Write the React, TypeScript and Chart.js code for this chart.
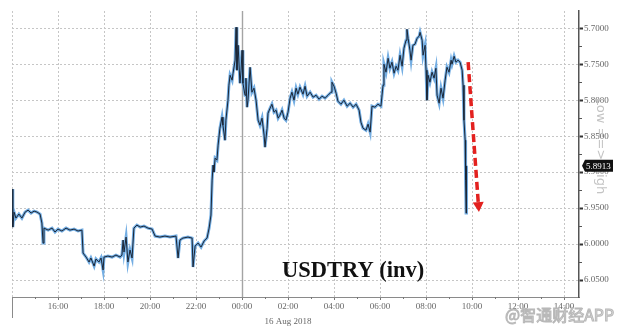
import React, { useEffect, useRef } from "react";
import { Chart, registerables } from "chart.js";

Chart.register(...registerables);

// Time in hours since 15 Aug 2018 00:00 (24 = 16 Aug 00:00)
const TIMES = [
  14.02, 14.03, 14.04, 14.09, 14.17, 14.30, 14.43, 14.57, 14.70, 14.83, 14.96, 15.09, 15.22, 15.30, 15.35, 15.39,
  15.57, 15.74, 15.87, 16.00, 16.17, 16.35, 16.52, 16.70, 16.87, 17.04, 17.09, 17.22, 17.35, 17.43, 17.57, 17.65,
  17.78, 17.87, 17.96, 18.00, 18.17, 18.35, 18.52, 18.70, 18.78, 18.83, 18.87, 18.96, 19.04, 19.13, 19.22, 19.30,
  19.43, 19.57, 19.74, 19.91, 20.09, 20.22, 20.43, 20.65, 20.87, 21.13, 21.22, 21.30, 21.43, 21.65, 21.83, 21.87,
  21.96, 22.09, 22.22, 22.35, 22.48, 22.57, 22.65, 22.70, 22.74, 22.78, 22.83, 22.91, 22.96, 23.04, 23.13, 23.17,
  23.26, 23.30, 23.39, 23.43, 23.48, 23.57, 23.61, 23.70, 23.74, 23.78, 23.83, 23.91, 23.96, 24.00, 24.04, 24.13,
  24.17, 24.22, 24.26, 24.35, 24.43, 24.52, 24.61, 24.70, 24.78, 24.87, 24.96, 25.00, 25.09, 25.13, 25.22, 25.30,
  25.39, 25.48, 25.57, 25.65, 25.74, 25.83, 25.91, 26.00, 26.09, 26.17, 26.26, 26.35, 26.43, 26.52, 26.65, 26.74,
  26.83, 26.96, 27.09, 27.22, 27.35, 27.48, 27.61, 27.74, 27.87, 27.91, 28.00, 28.09, 28.17, 28.30, 28.43, 28.57,
  28.70, 28.83, 28.96, 29.09, 29.17, 29.26, 29.39, 29.48, 29.57, 29.65, 29.78, 29.91, 30.04, 30.13, 30.17, 30.26,
  30.35, 30.43, 30.52, 30.61, 30.70, 30.78, 30.87, 30.96, 31.04, 31.13, 31.17, 31.22, 31.30, 31.35, 31.43, 31.52,
  31.61, 31.70, 31.74, 31.83, 31.87, 31.96, 32.00, 32.04, 32.09, 32.17, 32.26, 32.35, 32.43, 32.48, 32.57, 32.65,
  32.74, 32.83, 32.91, 33.00, 33.09, 33.13, 33.22, 33.30, 33.39, 33.48, 33.57, 33.61, 33.65, 33.70, 33.72, 33.74,
  33.76,
];

const VALUES = [
  5.9597, 5.9236, 5.9764, 5.9556, 5.9639, 5.9583, 5.9639, 5.9556, 5.9528, 5.9569, 5.9542, 5.9556, 5.9583, 5.9708, 5.9986, 5.9778,
  5.9806, 5.9778, 5.9833, 5.9792, 5.9819, 5.9778, 5.9806, 5.9792, 5.9819, 5.9806, 6.0125, 6.0181, 6.0250, 6.0194, 6.0306, 6.0208,
  6.0250, 6.0194, 6.0361, 6.0181, 6.0167, 6.0181, 6.0153, 6.0181, 6.0153, 5.9944, 6.0111, 5.9903, 6.0250, 6.0083, 6.0194, 5.9778,
  5.9736, 5.9764, 5.9750, 5.9778, 5.9792, 5.9889, 5.9903, 5.9889, 5.9903, 5.9889, 6.0194, 5.9944, 5.9917, 5.9903, 5.9917, 6.0319,
  6.0028, 5.9986, 6.0042, 5.9958, 5.9917, 5.9778, 5.9597, 5.9111, 5.8903, 5.9000, 5.8806, 5.8833, 5.8625, 5.8389, 5.8236, 5.8347,
  5.8556, 5.8278, 5.8000, 5.7792, 5.7653, 5.7722, 5.7625, 5.7444, 5.6986, 5.7583, 5.7236, 5.7764, 5.7583, 5.7306, 5.7764, 5.7931,
  5.7694, 5.8097, 5.8000, 5.7542, 5.7889, 5.7833, 5.8000, 5.8278, 5.8347, 5.8250, 5.8486, 5.8653, 5.8389, 5.8181, 5.8111, 5.8056,
  5.8167, 5.8139, 5.8250, 5.8208, 5.8139, 5.8250, 5.8278, 5.8167, 5.7972, 5.7889, 5.8000, 5.7833, 5.7917, 5.7819, 5.7917, 5.7806,
  5.7944, 5.7889, 5.7958, 5.7931, 5.7986, 5.7944, 5.7972, 5.7931, 5.7889, 5.7750, 5.7806, 5.7903, 5.8014, 5.8056, 5.8000, 5.8083,
  5.8042, 5.8097, 5.8056, 5.8139, 5.8306, 5.8389, 5.8417, 5.8333, 5.8444, 5.8083, 5.8097, 5.8056, 5.8083, 5.7792, 5.7500, 5.7611,
  5.7417, 5.7556, 5.7472, 5.7625, 5.7528, 5.7583, 5.7375, 5.7528, 5.7278, 5.7167, 5.7014, 5.7139, 5.7306, 5.7444, 5.7236, 5.7222,
  5.7139, 5.7111, 5.7056, 5.7167, 5.7375, 5.7236, 5.7583, 5.8000, 5.7653, 5.7750, 5.7611, 5.7694, 5.7556, 5.7931, 5.8042, 5.7833,
  5.7972, 5.7722, 5.7542, 5.7611, 5.7444, 5.7500, 5.7389, 5.7472, 5.7444, 5.7472, 5.7583, 5.7792, 5.8278, 5.8556, 5.9111, 5.9569,
  5.8913,
];

const X_TICKS = [16, 18, 20, 22, 24, 26, 28, 30, 32, 34, 36, 38];
const X_MINOR = [15, 17, 19, 21, 23, 25, 27, 29, 31, 33, 35, 37];
const Y_TICKS = [5.7, 5.75, 5.8, 5.85, 5.9, 5.95, 6.0, 6.05];
const Y_MINOR = [5.725, 5.775, 5.825, 5.875, 5.925, 5.975, 6.025];
const X_MIN = 14.0;
const X_MAX = 38.65;
const Y_MIN = 5.676;
const Y_MAX = 6.0736;
const MIDNIGHT = 24;
const DATE_TICK = 26;
const LAST_VALUE = 5.8913;
const ARROW_FROM = [33.83, 5.7472];
const ARROW_TO = [34.3, 5.9556];
const TITLE = "USDTRY (inv)";
const DATE_LABEL = "16 Aug 2018";
const SIDE_NOTE = "Low ==> High";
const WATERMARK = "@智通财经APP";

const TICK_FONT = "Liberation Serif";

const decorPlugin = {
  id: "decor",
  beforeDatasetsDraw(chart: any) {
    const { ctx, chartArea: a, scales } = chart;
    const x = scales.x;
    ctx.save();
    const mx = Math.round(x.getPixelForValue(MIDNIGHT)) + 0.5;
    ctx.strokeStyle = "#a4a4a4";
    ctx.lineWidth = 1.4;
    ctx.beginPath();
    ctx.moveTo(mx, a.top);
    ctx.lineTo(mx, a.bottom);
    ctx.stroke();
    ctx.setLineDash([2, 2]);
    ctx.strokeStyle = "#c8c8c8";
    ctx.lineWidth = 1;
    ctx.beginPath();
    ctx.moveTo(a.left + 0.5, a.top);
    ctx.lineTo(a.left + 0.5, a.bottom);
    ctx.stroke();
    ctx.restore();
  },
  afterDraw(chart: any) {
    const { ctx, chartArea: a, scales } = chart;
    const x = scales.x;
    const y = scales.y;
    ctx.save();

    // left frame below axis
    ctx.strokeStyle = "#8a8a8a";
    ctx.lineWidth = 1;
    ctx.beginPath();
    ctx.moveTo(a.left + 0.5, a.bottom);
    ctx.lineTo(a.left + 0.5, a.bottom + 21);
    ctx.stroke();

    // minor x ticks
    ctx.strokeStyle = "#777";
    X_MINOR.forEach((v) => {
      const px = Math.round(x.getPixelForValue(v)) + 0.5;
      ctx.beginPath();
      ctx.moveTo(px, a.bottom);
      ctx.lineTo(px, a.bottom + 2);
      ctx.stroke();
    });
    // minor y ticks
    ctx.strokeStyle = "#555";
    Y_MINOR.forEach((v) => {
      const py = Math.round(y.getPixelForValue(v)) + 0.5;
      ctx.beginPath();
      ctx.moveTo(a.right, py);
      ctx.lineTo(a.right + 3, py);
      ctx.stroke();
    });

    // side note (rotated)
    ctx.save();
    ctx.translate(600, 146);
    ctx.rotate(Math.PI / 2);
    ctx.font = "13px 'DejaVu Sans'";
    ctx.fillStyle = "#c4c4c4";
    ctx.textAlign = "center";
    ctx.textBaseline = "middle";
    ctx.fillText(SIDE_NOTE, 0, 0);
    ctx.restore();

    // last price box
    const ly = y.getPixelForValue(LAST_VALUE);
    const bx = a.right + 3;
    const bw = 31;
    const bh = 12;
    ctx.fillStyle = "#111";
    ctx.beginPath();
    ctx.moveTo(bx, ly);
    ctx.lineTo(bx + 3, ly - bh / 2);
    ctx.lineTo(bx + bw, ly - bh / 2);
    ctx.lineTo(bx + bw, ly + bh / 2);
    ctx.lineTo(bx + 3, ly + bh / 2);
    ctx.closePath();
    ctx.fill();
    ctx.fillStyle = "#fff";
    ctx.font = `9px '${TICK_FONT}'`;
    ctx.textAlign = "left";
    ctx.textBaseline = "middle";
    ctx.fillText(LAST_VALUE.toFixed(4), bx + 4, ly + 0.5);

    // red dashed arrow
    const x1 = x.getPixelForValue(ARROW_FROM[0]);
    const y1 = y.getPixelForValue(ARROW_FROM[1]);
    const x2 = x.getPixelForValue(ARROW_TO[0]);
    const y2 = y.getPixelForValue(ARROW_TO[1]);
    const ang = Math.atan2(y2 - y1, x2 - x1);
    const headLen = 10;
    const headW = 5.5;
    const hx = x2 - headLen * Math.cos(ang);
    const hy = y2 - headLen * Math.sin(ang);
    ctx.strokeStyle = "#e3211f";
    ctx.lineWidth = 3.5;
    ctx.setLineDash([8, 4]);
    ctx.beginPath();
    ctx.moveTo(x1, y1);
    ctx.lineTo(hx, hy);
    ctx.stroke();
    ctx.setLineDash([]);
    ctx.fillStyle = "#e3211f";
    ctx.beginPath();
    ctx.moveTo(x2, y2);
    ctx.lineTo(hx - headW * Math.sin(ang), hy + headW * Math.cos(ang));
    ctx.lineTo(hx + headW * Math.sin(ang), hy - headW * Math.cos(ang));
    ctx.closePath();
    ctx.fill();

    // title
    ctx.fillStyle = "#111";
    ctx.font = "bold 22.5px 'Liberation Serif'";
    ctx.textAlign = "left";
    ctx.textBaseline = "alphabetic";
    ctx.fillText(TITLE, 282, 277);

    // date label under 02:00
    ctx.fillStyle = "#666";
    ctx.font = `9px '${TICK_FONT}'`;
    ctx.textAlign = "center";
    ctx.textBaseline = "middle";
    ctx.fillText(DATE_LABEL, x.getPixelForValue(DATE_TICK), a.bottom + 25);

    // watermark
    ctx.font = "16px 'Noto Sans CJK SC'";
    ctx.textAlign = "left";
    ctx.textBaseline = "middle";
    ctx.lineWidth = 1;
    ctx.strokeStyle = "#b8b8b8";
    ctx.fillStyle = "#e6e6e6";
    ctx.fillText(WATERMARK, 505, 315);
    ctx.strokeText(WATERMARK, 505, 315);

    ctx.restore();
  },
};

export default function App() {
  const canvasRef = useRef<HTMLCanvasElement | null>(null);

  useEffect(() => {
    const canvas = canvasRef.current;
    if (!canvas) return;
    const points = TIMES.map((t, i) => ({ x: t, y: VALUES[i] }));
    const chart = new Chart(canvas, {
      type: "line",
      data: {
        datasets: [
          {
            data: points,
            borderColor: "#1b2636",
            borderWidth: 1,
            pointRadius: 0,
            tension: 0,
            order: 0,
          },
          {
            data: points,
            borderColor: "#74aee3",
            borderWidth: 3,
            pointRadius: 0,
            tension: 0,
            order: 1,
          },
        ],
      },
      options: {
        animation: false,
        responsive: false,
        maintainAspectRatio: false,
        layout: { padding: { left: 12, top: 11, right: 0, bottom: 0 } },
        plugins: { legend: { display: false }, tooltip: { enabled: false } },
        scales: {
          x: {
            type: "linear",
            min: X_MIN,
            max: X_MAX,
            afterBuildTicks: (scale: any) => {
              scale.ticks = X_TICKS.map((v) => ({ value: v }));
            },
            afterFit: (scale: any) => {
              scale.height = 38;
            },
            ticks: {
              autoSkip: false,
              maxRotation: 0,
              minRotation: 0,
              padding: 1,
              color: "#666",
              font: { family: TICK_FONT, size: 9 },
              callback: (v: any) => `${String(Number(v) % 24).padStart(2, "0")}:00`,
            },
            grid: {
              color: "#c6c6c6",
              lineWidth: 1,
              tickColor: "#777",
              tickLength: 3,
              drawTicks: true,
            },
            border: { display: true, color: "#8a8a8a", width: 1, dash: [2, 2] },
          },
          y: {
            type: "linear",
            position: "right",
            reverse: true,
            min: Y_MIN,
            max: Y_MAX,
            afterBuildTicks: (scale: any) => {
              scale.ticks = Y_TICKS.map((v) => ({ value: v }));
            },
            afterFit: (scale: any) => {
              scale.width = 44;
            },
            ticks: {
              padding: 1,
              color: "#666",
              font: { family: TICK_FONT, size: 9 },
              callback: (v: any) => Number(v).toFixed(4),
            },
            grid: {
              color: "#c6c6c6",
              lineWidth: 1,
              tickColor: "#333",
              tickWidth: 2,
              tickLength: 4,
              drawTicks: true,
            },
            border: { display: true, color: "#555", width: 1.5, dash: [2, 2] },
          },
        },
      },
      plugins: [decorPlugin],
    });
    return () => chart.destroy();
  }, []);

  return (
    <div style={{ position: "fixed", left: 0, top: 0, width: 623, height: 335, background: "#fff" }}>
      <canvas ref={canvasRef} width={623} height={335} style={{ width: 623, height: 335, display: "block" }} />
    </div>
  );
}
